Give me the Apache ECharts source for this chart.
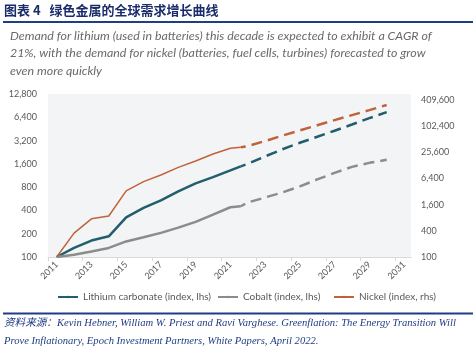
<!DOCTYPE html>
<html>
<head>
<meta charset="utf-8">
<script src="https://cdn.jsdelivr.net/npm/echarts@6/dist/echarts.min.js"></script>
<style>
html, body { margin: 0; padding: 0; background: #fff; }
#main { width: 476px; height: 354px; }
</style>
</head>
<body>
<div id="main"></div>
<script>
// 实际数据（到2021年中）与预测数据（到2030年）
var actualYears = [2011, 2012, 2013, 2014, 2015, 2016, 2017, 2018, 2019, 2020, 2021, 2021.6];
var lithiumActual = [100, 131, 163, 185, 326, 432, 538, 706, 894, 1079, 1317, 1485];
var cobaltActual = [100, 107, 118, 131, 159, 180, 205, 240, 285, 354, 440, 453];
var nickelActual = [100, 354, 753, 873, 3295, 5378, 7660, 11420, 16020, 23170, 31280, 32980];

var forecastYears = [2021.6, 2022, 2023, 2024, 2025, 2026, 2027, 2028, 2029, 2030];
var lithiumForecast = [1485, 1600, 2000, 2470, 3000, 3580, 4290, 5160, 6230, 7450];
var cobaltForecast = [453, 506, 588, 683, 817, 1007, 1223, 1463, 1649, 1803];
var nickelForecast = [32980, 35300, 45960, 61400, 80800, 105700, 139000, 181000, 235600, 309800];

// x轴：刻度在两年之间，标签在奇数年
var xLabelYears = [2011, 2013, 2015, 2017, 2019, 2021, 2023, 2025, 2027, 2029, 2031];
var xTickYears = [2010.5, 2012.5, 2014.5, 2016.5, 2018.5, 2020.5, 2022.5, 2024.5, 2026.5, 2028.5, 2030.5];

var legendNames = ['Lithium carbonate (index, lhs)', 'Cobalt (index, lhs)', 'Nickel (index, rhs)'];
var colors = ['#225e6b', '#8c8c8c', '#c0633a'];

var titleText = '图表 4   绿色金属的全球需求增长曲线';
var subtitleLines = [
    'Demand for lithium (used in batteries) this decade is expected to exhibit a CAGR of',
    '21%, with the demand for nickel (batteries, fuel cells, turbines) forecasted to grow',
    'even more quickly'
];
var sourceLines = [
    '资料来源：Kevin Hebner, William W. Priest and Ravi Varghese. Greenflation: The Energy Transition Will',
    'Prove Inflationary, Epoch Investment Partners, White Papers, April 2022.'
];

function pairs(xs, ys) {
    var out = [];
    for (var i = 0; i < xs.length; i++) out.push([xs[i], ys[i]]);
    return out;
}

function solid(name, color, width, ys, axis) {
    return {
        name: name, type: 'line', yAxisIndex: axis, symbol: 'none',
        data: pairs(actualYears, ys),
        lineStyle: { color: color, width: width },
        itemStyle: { color: color }
    };
}
function dashed(name, color, ys, axis) {
    return {
        name: name, type: 'line', yAxisIndex: axis, symbol: 'none',
        data: pairs(forecastYears, ys),
        lineStyle: { color: color, width: 2.5, type: [11, 6], dashOffset: 6 },
        itemStyle: { color: color }
    };
}

// 对数轴标签取整到 100*base^k
function logLabel(base) {
    return function (v) {
        var k = Math.log(v / 100) / Math.log(base);
        if (Math.abs(k - Math.round(k)) > 0.01) return '';
        return (100 * Math.pow(base, Math.round(k))).toLocaleString('en-US');
    };
}

var labelFont = 'Lato, "Open Sans", sans-serif';
var myChart = echarts.init(document.getElementById('main'));

// 文字与分隔线
var graphics = [
    { type: 'text', left: 4, top: 4, style: { text: titleText, font: 'bold 13px "Noto Sans CJK SC"', fill: '#1b2c6b' } },
    { type: 'line', shape: { x1: 3, y1: 22, x2: 473, y2: 22 }, style: { stroke: '#1f3c84', lineWidth: 2 } }
];
subtitleLines.forEach(function (t, i) {
    graphics.push({ type: 'text', x: 10, y: 36 + i * 17.4,
        style: { text: t, font: 'italic 12.4px Lato', fill: '#6a6a6a', verticalAlign: 'middle' } });
});
graphics.push({ type: 'line', shape: { x1: 3, y1: 313.5, x2: 473, y2: 313.5 }, style: { stroke: '#1f3c84', lineWidth: 2 } });
sourceLines.forEach(function (t, i) {
    graphics.push({ type: 'text', x: 4, y: 323 + i * 18,
        style: { text: t, font: 'italic 10.6px "Liberation Serif", "Noto Sans CJK SC"', fill: '#1f3c84', verticalAlign: 'middle' } });
});

// 三个图例分别定位
var legendLeft = [52, 212, 328];
var legends = legendNames.map(function (n, i) {
    return {
        data: [n], left: legendLeft[i], top: 287, itemWidth: 20, itemHeight: 3,
        textStyle: { fontFamily: labelFont, fontSize: 10, color: '#595959' }
    };
});

var option = {
    animation: false,
    color: colors,
    graphic: graphics,
    grid: { left: 48, right: 65, top: 94, bottom: 97, show: true, backgroundColor: '#f3f4f6', borderWidth: 0 },
    legend: legends,
    xAxis: {
        type: 'value', min: 2010.5, max: 2031.4,
        axisLine: { lineStyle: { color: '#d9d9d9' } },
        axisTick: { lineStyle: { color: '#d9d9d9' }, length: 4, customValues: xTickYears },
        splitLine: { show: false },
        axisLabel: {
            rotate: 45, margin: 6, fontFamily: labelFont, fontSize: 9, color: '#595959',
            customValues: xLabelYears,
            formatter: function (v) { return String(Math.round(v)); }
        }
    },
    yAxis: [
        {
            type: 'log', logBase: 2, min: 100, max: 12800, interval: 1,
            axisLine: { show: false }, axisTick: { show: false }, splitLine: { show: false },
            axisLabel: { margin: 11, fontFamily: labelFont, fontSize: 9, color: '#595959', formatter: logLabel(2) }
        },
        {
            type: 'log', logBase: 4, min: 100, max: 553000, interval: 1, position: 'right',
            axisLine: { show: false }, axisTick: { show: false }, splitLine: { show: false },
            axisLabel: { margin: 10, fontFamily: labelFont, fontSize: 9, color: '#595959', formatter: logLabel(4) }
        }
    ],
    series: [
        solid(legendNames[0], colors[0], 2.5, lithiumActual, 0),
        solid(legendNames[1], colors[1], 2.5, cobaltActual, 0),
        solid(legendNames[2], colors[2], 1.5, nickelActual, 1),
        dashed('Lithium forecast', colors[0], lithiumForecast, 0),
        dashed('Cobalt forecast', colors[1], cobaltForecast, 0),
        dashed('Nickel forecast', colors[2], nickelForecast, 1)
    ]
};

myChart.setOption(option);
</script>
</body>
</html>
